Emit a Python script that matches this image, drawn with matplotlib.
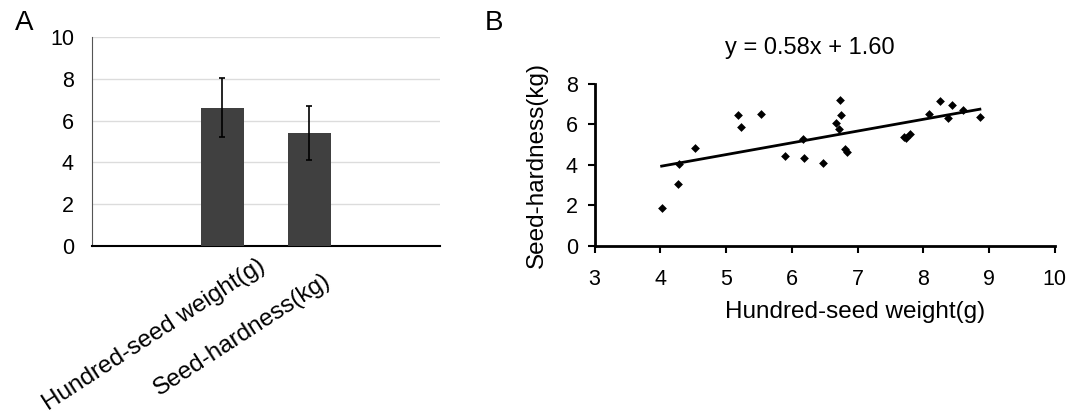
import numpy as np
import matplotlib.pyplot as plt
from matplotlib.transforms import ScaledTranslation

plt.rcParams['font.family'] = ['Liberation Sans', 'DejaVu Sans']

# panel A: means with error bars
bar_labels = ["Hundred-seed weight(g)", "Seed-hardness(kg)"]
bar_means = [6.62, 5.42]
bar_errs = [1.43, 1.30]

# panel B: scatter of seed weight vs hardness
seed_weight = [4.02, 4.27, 4.29, 4.53, 5.18, 5.22, 5.53, 5.90, 6.17, 6.19,
               6.48, 6.67, 6.71, 6.73, 6.75, 6.81, 6.84, 7.71, 7.73, 7.80,
               8.09, 8.26, 8.38, 8.44, 8.61, 8.86]
seed_hardness = [1.87, 3.07, 4.06, 4.81, 6.44, 5.86, 6.49, 4.42, 5.25, 4.35,
                 4.09, 6.06, 5.76, 7.18, 6.44, 4.76, 4.63, 5.37, 5.30, 5.52,
                 6.50, 7.13, 6.31, 6.93, 6.72, 6.35]
slope, intercept = 0.58, 1.60

fig = plt.figure(figsize=(10.83, 4.16), dpi=100)

# ---- A ----
axA = fig.add_axes([0.085, 0.409, 0.321, 0.502])
pos = np.arange(1, len(bar_means) + 1)
axA.bar(pos, bar_means, width=0.5, color='#404040', zorder=3)
axA.errorbar(pos, bar_means, yerr=bar_errs, fmt='none', ecolor='black',
             elinewidth=1.2, capsize=2.5, capthick=1.2, zorder=4)
axA.set_xlim(-0.5, 3.5)
axA.set_ylim(0, 10)
axA.set_yticks([0, 2, 4, 6, 8, 10])
axA.yaxis.grid(True, color='#dcdcdc', linewidth=1, zorder=0)
axA.set_xticks(pos)
axA.set_xticklabels(bar_labels, rotation=33, ha='right', va='top',
                    rotation_mode='anchor', fontsize=17.5)
axA.tick_params(axis='both', length=0)
axA.tick_params(axis='y', labelsize=15.5, pad=13)
axA.tick_params(axis='x', pad=0)
# excel-like label placement: shift each rotated label individually
shifts = [(0.35, -0.09), (0.13, -0.23)]
for lab, (dx, dy) in zip(axA.get_xticklabels(), shifts):
    lab.set_transform(lab.get_transform() + ScaledTranslation(dx, dy, fig.dpi_scale_trans))
for s in ['top', 'right']:
    axA.spines[s].set_visible(False)
axA.spines['left'].set_color('#555555')
axA.spines['bottom'].set_color('black')
axA.spines['bottom'].set_linewidth(1.5)
fig.text(0.014, 0.945, "A", fontsize=20, va='center')

# ---- B ----
axB = fig.add_axes([0.549, 0.409, 0.425, 0.390])
axB.scatter(seed_weight, seed_hardness, marker='D', s=20, color='black',
            linewidths=0, zorder=3)
xl = np.array([min(seed_weight), max(seed_weight)])
axB.plot(xl, slope * xl + intercept, color='black', linewidth=2)
axB.set_xlim(3, 10)
axB.set_ylim(0, 8)
axB.set_xticks(range(3, 11))
axB.set_yticks([0, 2, 4, 6, 8])
for s in ['top', 'right']:
    axB.spines[s].set_visible(False)
for s in ['left', 'bottom']:
    axB.spines[s].set_linewidth(2)
axB.tick_params(axis='both', direction='out', length=5, width=1.5, labelsize=15.5)
axB.tick_params(axis='x', pad=12)
axB.tick_params(axis='y', pad=7)
axB.set_xlabel("Hundred-seed weight(g)", fontsize=17.5)
axB.set_ylabel("Seed-hardness(kg)", fontsize=17.5, labelpad=13)
axB.xaxis.set_label_coords(0.565, -0.34)
fig.text(0.748, 0.885, "y = %.2fx + %.2f" % (slope, intercept), fontsize=17,
         ha='center', va='center')
fig.text(0.448, 0.945, "B", fontsize=20, va='center')

fig.savefig("out.png", dpi=100)
